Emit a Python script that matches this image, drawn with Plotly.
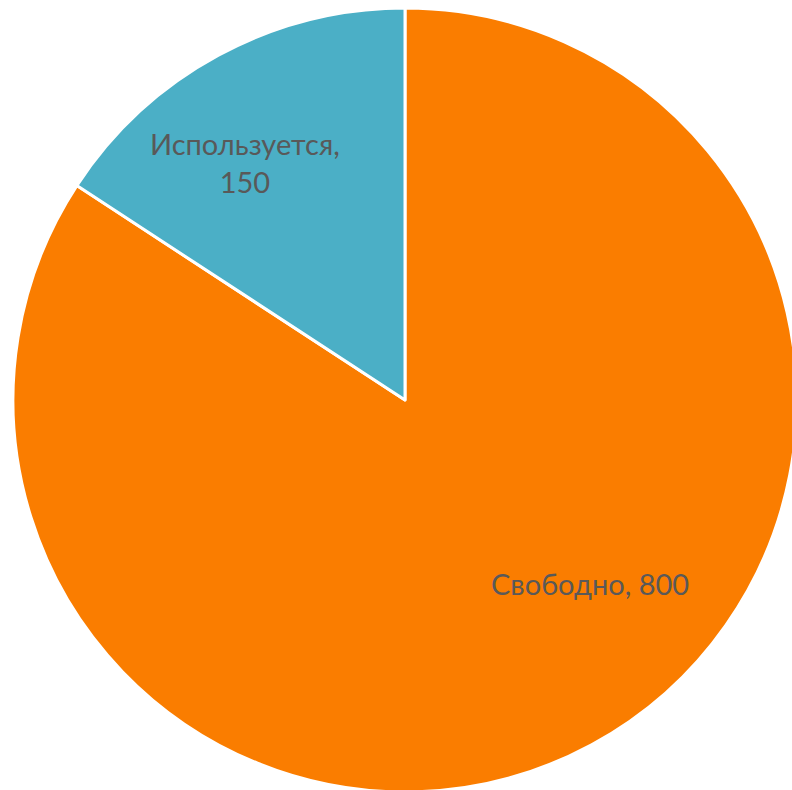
import math
import plotly.graph_objects as go

# Disk usage split
labels = ["Свободно", "Используется"]
values = [800, 150]
colors = ["#FA7D00", "#4BAFC6"]

W, H = 810, 800
# pie bounding box in pixels (left, top, diameter)
left, top, diam = 13, 8, 784
r = diam / 2
cx, cy = left + r, top + r

fig = go.Figure(
    go.Pie(
        labels=labels,
        values=values,
        sort=False,
        direction="clockwise",
        rotation=0,
        marker=dict(colors=colors, line=dict(color="white", width=3)),
        textinfo="none",
        hoverinfo="label+value",
        domain=dict(x=[left / W, (left + diam) / W], y=[1 - (top + diam) / H, 1 - top / H]),
    )
)

# label placement: angle offset from slice middle (deg) and radial fraction
label_style = {
    "Свободно": dict(fmt="{l}, {v}", frac=0.664, shift=-16.9),
    "Используется": dict(fmt="{l},<br>{v}", frac=0.73, shift=-5.5),
}

total = sum(values)
start = 0.0
for lab, val in zip(labels, values):
    span = 360.0 * val / total
    st = label_style[lab]
    mid = math.radians(start + span / 2 + st["shift"])
    px = cx + st["frac"] * r * math.sin(mid)
    py = cy - st["frac"] * r * math.cos(mid)
    fig.add_annotation(
        x=px / W, y=1 - py / H, xref="paper", yref="paper",
        text=st["fmt"].format(l=lab, v=val),
        showarrow=False, xanchor="center", yanchor="middle",
        font=dict(family="Lato, 'Open Sans', sans-serif", size=29, color="#595959"),
    )
    start += span

fig.update_layout(
    width=W, height=H,
    margin=dict(l=0, r=0, t=0, b=0),
    paper_bgcolor="white", plot_bgcolor="white",
    showlegend=False,
)

fig.write_html(
    "out.html",
    post_script="document.body.style.margin='0';document.body.style.overflow='hidden';",
)
